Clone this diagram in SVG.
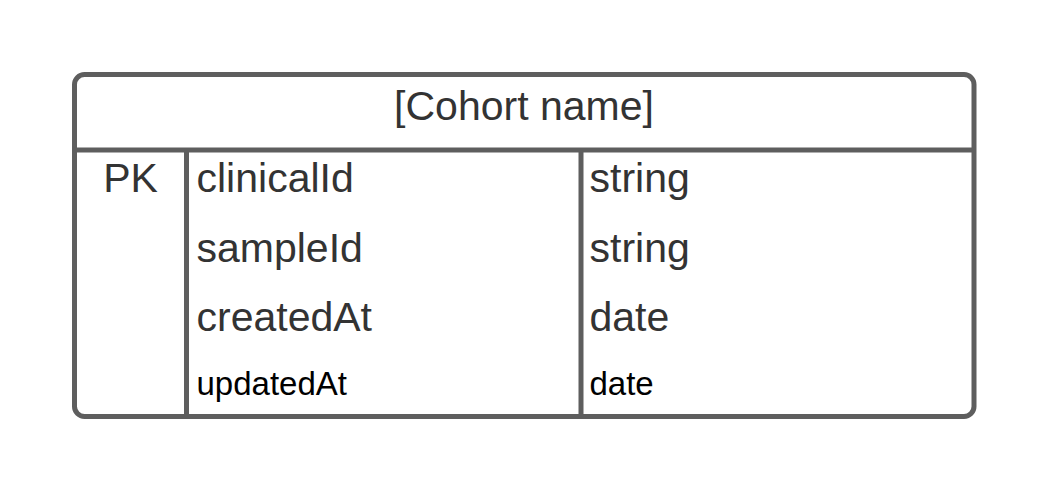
<svg xmlns="http://www.w3.org/2000/svg" width="1050" height="493" viewBox="0 0 1050 493">
<style>
.ln{fill:none;stroke:#5e5e5e;stroke-width:5}
.t{font-family:"Liberation Sans",Arial,sans-serif;font-size:41px;fill:#333333}
.s{font-family:"Liberation Sans",Arial,sans-serif;font-size:33px;fill:#000000}
</style>
<rect width="1050" height="493" fill="#ffffff"/>
<g id="cohort-table">
<rect class="ln" x="74.5" y="74.5" width="899.5" height="342" rx="10" ry="10" fill="#ffffff"/>
<line class="ln" x1="74.5" y1="150" x2="974" y2="150"/>
<line class="ln" x1="186.5" y1="150" x2="186.5" y2="416.5"/>
<line class="ln" x1="581" y1="150" x2="581" y2="416.5"/>
<text class="t" x="524" y="120" text-anchor="middle">[Cohort name]</text>
<text class="t" x="130.5" y="192" text-anchor="middle">PK</text>
<text class="t" x="196.5" y="192">clinicalId</text>
<text class="t" x="589.5" y="192">string</text>
<text class="t" x="196.5" y="262">sampleId</text>
<text class="t" x="589.5" y="262">string</text>
<text class="t" x="196.5" y="331">createdAt</text>
<text class="t" x="589.5" y="331">date</text>
<text class="s" x="196.5" y="395">updatedAt</text>
<text class="s" x="589.5" y="395">date</text>
</g>
<g id="connectors"></g>
</svg>
